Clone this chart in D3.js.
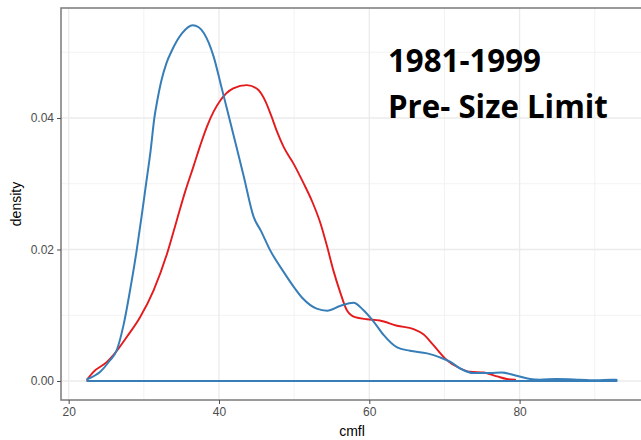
<!DOCTYPE html>
<html><head><meta charset="utf-8">
<script src="https://cdn.jsdelivr.net/npm/d3@7/dist/d3.min.js"></script>
<style>html,body{margin:0;padding:0;background:#fff;overflow:hidden}</style>
</head><body><svg id="c" width="641" height="440"></svg>
<script>
// Period 1 (red) density estimate: cmfl vs density
const redX = [22.5,23.3,25.1,26.0,27.8,29.5,31.3,33.1,34.4,35.5,36.6,37.5,38.4,39.3,40.2,41.9,43.7,45.1,46.2,47.0,47.7,48.6,49.9,51.2,52.4,53.5,54.4,55.2,56.1,57.0,58.1,59.7,61.4,63.7,65.9,67.2,68.5,70.3,72.1,73.4,75.2,77.0,78.3,79.4];
const redY = [0.0003,0.0014,0.0029,0.0040,0.0068,0.0097,0.0138,0.0194,0.0245,0.0288,0.0326,0.0358,0.0387,0.0410,0.0427,0.0445,0.0450,0.0444,0.0425,0.0402,0.0380,0.0356,0.0331,0.0302,0.0273,0.0240,0.0204,0.0169,0.0136,0.0108,0.0097,0.0094,0.0092,0.0084,0.0079,0.0071,0.0055,0.0032,0.0019,0.0014,0.0013,0.0007,0.0003,0.0002];
// Period 2 (blue) density estimate
const blueX = [22.5,24.2,25.4,26.4,27.3,28.2,29.0,29.7,30.3,30.9,31.4,31.8,32.3,33.0,33.75,35.1,36.5,37.3,38.0,39.3,40.2,41.1,42.2,43.3,44.6,45.6,46.8,48.6,49.9,51.2,53.0,54.4,56.1,57.9,59.2,60.6,61.9,63.7,65.4,67.7,69.4,70.8,72.1,73.9,76.1,77.6,79.6,81.4,82.7,84.9,88.0,90.3,92.1,92.9];
const blueY = [0.0003,0.0014,0.0030,0.0047,0.0085,0.0140,0.0195,0.0250,0.0300,0.0350,0.0400,0.0427,0.0455,0.0483,0.0503,0.0529,0.0541,0.0538,0.0529,0.0493,0.0453,0.0412,0.0362,0.0311,0.0250,0.0228,0.0199,0.0166,0.0144,0.0125,0.0110,0.0107,0.0114,0.0119,0.0108,0.0090,0.0070,0.0051,0.0046,0.0042,0.0036,0.0029,0.0019,0.0012,0.0012,0.0013,0.0008,0.0003,0.0002,0.0003,0.0002,0.0001,0.0002,0.0002];
const xMajor = [20,40,60,80];
const xMinor = [30,50,70,90];
const yMajor = [0,0.02,0.04];
const yMinor = [0.01,0.03,0.05];
const titleLines = ["1981-1999","Pre- Size Limit"];
const xTitle = "cmfl", yTitle = "density";

const svg = d3.select("#c");
const L = 61, R = 643, T = 8, B = 400;
const x = d3.scaleLinear().domain([18.98, 96.42]).range([L, R]);
const y = d3.scaleLinear().domain([-0.00289, 0.05673]).range([B, T]);

const g = svg.append("g");
// grid
g.selectAll(".xmin").data(xMinor).join("line")
  .attr("x1", d=>x(d)).attr("x2", d=>x(d)).attr("y1", T).attr("y2", B)
  .attr("stroke", "#f2f2f2").attr("stroke-width", 1);
g.selectAll(".ymin").data(yMinor).join("line")
  .attr("y1", d=>y(d)).attr("y2", d=>y(d)).attr("x1", L).attr("x2", R)
  .attr("stroke", "#f2f2f2").attr("stroke-width", 1);
g.selectAll(".xmaj").data(xMajor).join("line")
  .attr("x1", d=>x(d)).attr("x2", d=>x(d)).attr("y1", T).attr("y2", B)
  .attr("stroke", "#ebebeb").attr("stroke-width", 1.3);
g.selectAll(".ymaj").data(yMajor).join("line")
  .attr("y1", d=>y(d)).attr("y2", d=>y(d)).attr("x1", L).attr("x2", R)
  .attr("stroke", "#ebebeb").attr("stroke-width", 1.3);

// density outlines (closed polygons like geom_density)
function outline(xs, ys) {
  const pts = xs.map((v,i)=>[v, ys[i]]);
  return d3.line().x(d=>x(d[0])).y(d=>y(d[1])).curve(d3.curveMonotoneX)(pts)
    + "L" + x(xs[xs.length-1]) + "," + y(0) + "L" + x(xs[0]) + "," + y(0) + "Z";
}
g.append("path").attr("d", outline(redX, redY)).attr("fill", "none")
  .attr("stroke", "#E41A1C").attr("stroke-width", 1.9).attr("stroke-linejoin", "round");
g.append("path").attr("d", outline(blueX, blueY)).attr("fill", "none")
  .attr("stroke", "#377EB8").attr("stroke-width", 2).attr("stroke-linejoin", "round");

// panel border
svg.append("rect").attr("x", L).attr("y", T).attr("width", R-L).attr("height", B-T)
  .attr("fill", "none").attr("stroke", "#7a7a7a").attr("stroke-width", 1.5);

// axes
const xAxis = d3.axisBottom(x).tickValues(xMajor).tickSize(4).tickPadding(3).tickFormat(d3.format("d"));
const yAxis = d3.axisLeft(y).tickValues(yMajor).tickSize(4).tickPadding(3).tickFormat(d3.format(".2f"));
const gx = svg.append("g").attr("transform", `translate(0,${B})`).call(xAxis);
const gy = svg.append("g").attr("transform", `translate(${L},0)`).call(yAxis);
[gx, gy].forEach(a => {
  a.select(".domain").remove();
  a.selectAll(".tick line").attr("stroke", "#4d4d4d").attr("stroke-width", 1);
  a.selectAll(".tick text").attr("fill", "#4d4d4d")
    .style("font-family", "'Liberation Sans', Arial, sans-serif").style("font-size", "12px");
});

svg.append("text").attr("x", (L+R)/2).attr("y", 436).attr("text-anchor", "middle")
  .style("font-family", "'Liberation Sans', Arial, sans-serif").style("font-size", "14px")
  .attr("fill", "#000").text(xTitle);
svg.append("text").attr("transform", `translate(21,${(T+B)/2}) rotate(-90)`).attr("text-anchor", "middle")
  .style("font-family", "'Liberation Sans', Arial, sans-serif").style("font-size", "14px")
  .attr("fill", "#000").text(yTitle);

// annotation
const t1 = svg.append("text").attr("x", 388).attr("y", 72)
  .style("font-family", "'Open Sans', Lato, sans-serif").style("font-weight", "bold").style("font-size", "32px")
  .attr("fill", "#000").text(titleLines[0]);
const t2 = svg.append("text").attr("x", 388).attr("y", 118)
  .style("font-family", "'Open Sans', Lato, sans-serif").style("font-weight", "bold").style("font-size", "32px")
  .attr("fill", "#000").text(titleLines[1]);
const w2 = t2.node().getComputedTextLength();
const fs = 32 * 220 / w2;
t1.style("font-size", fs + "px"); t2.style("font-size", fs + "px");
</script></body></html>
